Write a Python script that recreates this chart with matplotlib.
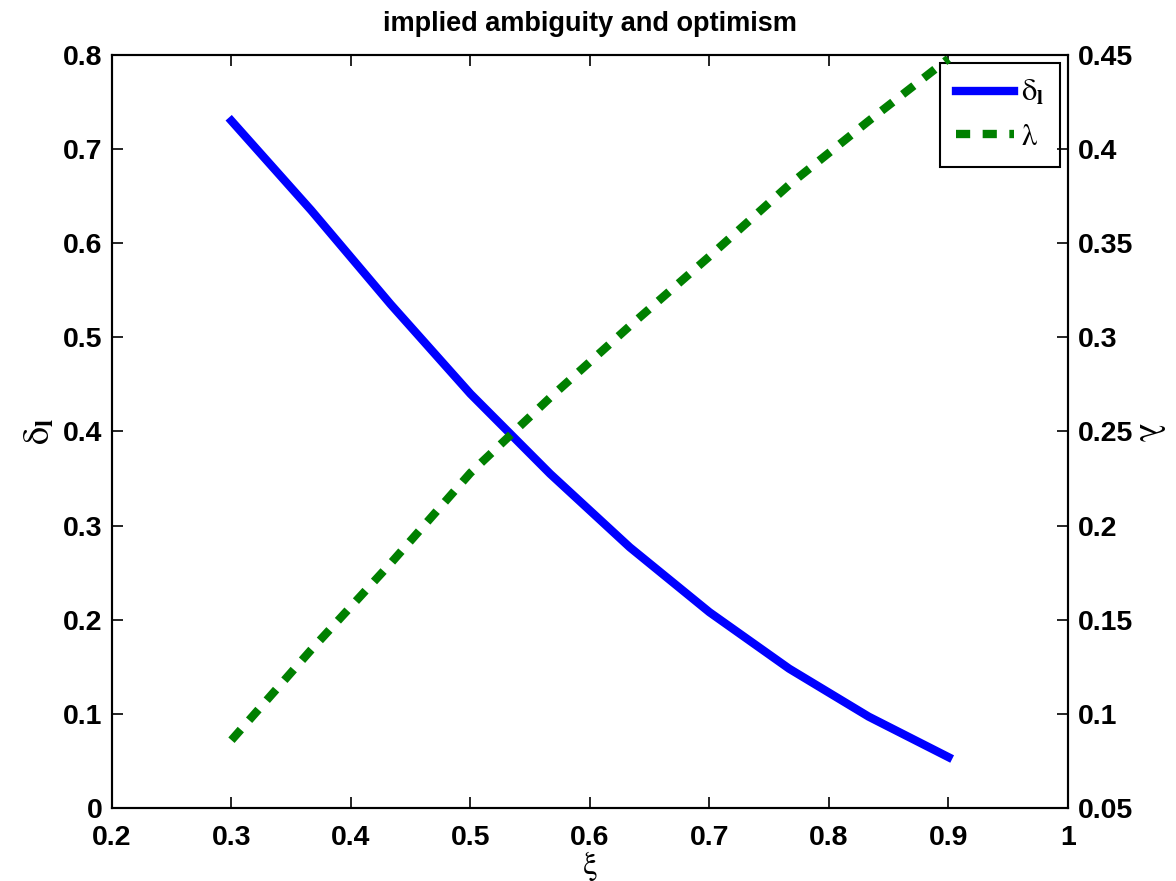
import numpy as np
import matplotlib
matplotlib.use("Agg")
import matplotlib.pyplot as plt

# data
xi = [0.3, 0.3667, 0.4333, 0.5, 0.5667, 0.6333, 0.7, 0.7667, 0.8333, 0.9]
delta_l = [0.73, 0.635, 0.535, 0.44, 0.355, 0.277, 0.208, 0.148, 0.097, 0.054]
lam = [0.086, 0.134, 0.18, 0.228, 0.268, 0.306, 0.343, 0.381, 0.415, 0.448]

x_ticks = [0.2, 0.3, 0.4, 0.5, 0.6, 0.7, 0.8, 0.9, 1.0]
left_ticks = [0, 0.1, 0.2, 0.3, 0.4, 0.5, 0.6, 0.7, 0.8]
right_ticks = [0.05, 0.1, 0.15, 0.2, 0.25, 0.3, 0.35, 0.4, 0.45]

plt.rcParams['font.family'] = ['Liberation Sans', 'DejaVu Sans']
plt.rcParams['mathtext.fontset'] = 'stix'

fig = plt.figure(figsize=(11.76, 8.81), dpi=100)
ax = fig.add_axes([0.0952, 0.0829, 0.8129, 0.8547])
ax2 = ax.twinx()

l1, = ax.plot(xi, delta_l, color='blue', lw=6, label=r'$\mathrm{\delta}_\mathbf{l}$')
l2, = ax2.plot(xi, lam, color='green', lw=6, linestyle=(0, (1.7, 1.5)),
               label=r'$\mathrm{\lambda}$')

ax.set_xlim(0.2, 1.0)
ax.set_ylim(0, 0.8)
ax2.set_ylim(0.05, 0.45)
ax.set_xticks(x_ticks)
ax.set_xticklabels(['0.2', '0.3', '0.4', '0.5', '0.6', '0.7', '0.8', '0.9', '1'])
ax.set_yticks(left_ticks)
ax.set_yticklabels(['0', '0.1', '0.2', '0.3', '0.4', '0.5', '0.6', '0.7', '0.8'])
ax2.set_yticks(right_ticks)
ax2.set_yticklabels(['0.05', '0.1', '0.15', '0.2', '0.25', '0.3', '0.35', '0.4', '0.45'])

for a in (ax, ax2):
    a.tick_params(direction='in', length=8, width=1.2, labelsize=20.5, pad=7)
    for lab in a.get_xticklabels() + a.get_yticklabels():
        lab.set_fontweight('bold')
    for s in a.spines.values():
        s.set_linewidth(1.5)
ax.tick_params(axis='x', top=True, pad=12)

ax.set_xlabel(r'$\mathrm{\xi}$', fontsize=24, labelpad=-1)
ax.set_ylabel(r'$\mathrm{\delta}_\mathbf{l}$', fontsize=26, labelpad=4)
ax2.set_ylabel(r'$\mathrm{\lambda}$', fontsize=26, rotation=-90, labelpad=24)
ax.set_title('implied ambiguity and optimism', fontsize=19.5, fontweight='bold', pad=17)

leg = ax.legend(handles=[l1, l2], loc='upper right', fontsize=22,
                bbox_to_anchor=(0.9916, 0.9894), fancybox=False, framealpha=1,
                edgecolor='black', handlelength=1.9, borderaxespad=0.0,
                borderpad=0.5, labelspacing=0.45, handletextpad=0.25)
leg.get_frame().set_linewidth(1.5)

fig.savefig('out.png', dpi=100)
